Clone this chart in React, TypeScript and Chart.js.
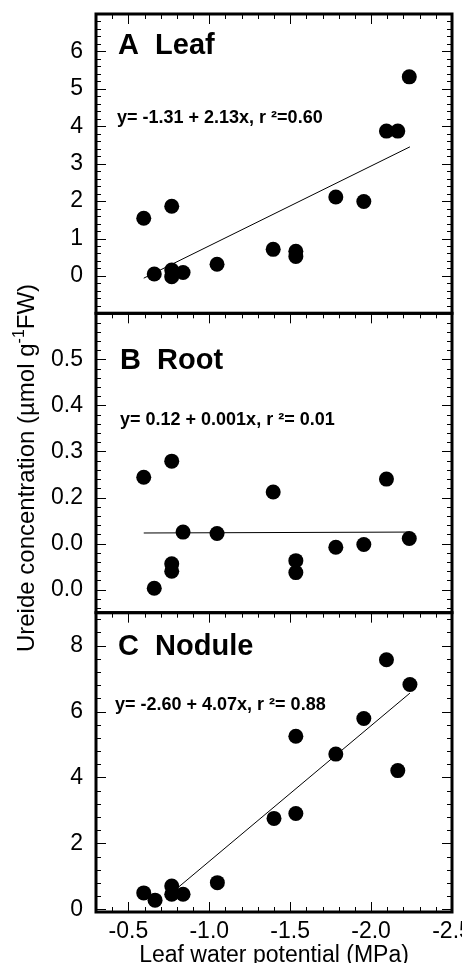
import React, { useEffect, useRef } from 'react';
import { Chart, registerables } from 'chart.js';

Chart.register(...registerables);

const FONT = "'Liberation Sans', Arial, Helvetica, sans-serif";

// ---- Data (leaf water potential, MPa; ureide concentration) ----
const leafX = [-0.595, -0.768, -0.66, -0.768, -0.768, -0.838, -1.048, -1.395, -1.535, -1.535, -1.782, -1.955, -2.095, -2.165, -2.236];
const leafY = [1.54, 1.86, 0.05, 0.16, -0.02, 0.09, 0.31, 0.71, 0.66, 0.52, 2.11, 1.99, 3.87, 3.87, 5.32];

const rootX = [-0.595, -0.768, -0.66, -0.768, -0.768, -0.838, -1.048, -1.395, -1.535, -1.535, -1.782, -1.955, -2.095, -2.236];
const rootY = [0.244, 0.279, 0.003, 0.056, 0.04, 0.125, 0.122, 0.212, 0.063, 0.037, 0.092, 0.098, 0.24, 0.111];

const noduleX = [-0.595, -0.665, -0.768, -0.768, -0.838, -1.05, -1.4, -1.535, -1.535, -1.782, -1.955, -2.095, -2.165, -2.24];
const noduleY = [0.5, 0.28, 0.71, 0.46, 0.46, 0.81, 2.76, 5.25, 2.91, 4.71, 5.79, 7.57, 4.21, 6.82];

// regression line end points
const leafFitX = [-0.595, -2.24];
const leafFitY = [-0.06, 3.45];
const rootFitX = [-0.595, -2.236];
const rootFitY = [0.123, 0.125];
const noduleFitX = [-0.811, -2.24];
const noduleFitY = [0.68, 6.56];

// ---- Ticks ----
const xTickValues = [-0.5, -1.0, -1.5, -2.0, -2.5];
const xTickLabels = ['-0.5', '-1.0', '-1.5', '-2.0', '-2.5'];
const leafTickValues = [0, 1, 2, 3, 4, 5, 6];
const leafTickLabels = ['0', '1', '2', '3', '4', '5', '6'];
const rootTickValues = [0, 0.1, 0.2, 0.3, 0.4, 0.5];
const rootTickLabels = ['0.0', '0.0', '0.2', '0.3', '0.4', '0.5'];
const noduleTickValues = [0, 2, 4, 6, 8];
const noduleTickLabels = ['0', '2', '4', '6', '8'];

// ---- Texts ----
const panelTitles = ['A  Leaf', 'B  Root', 'C  Nodule'];
const panelEquations = ['y= -1.31 + 2.13x, r \u00B2=0.60', 'y= 0.12 + 0.001x, r \u00B2= 0.01', 'y= -2.60 + 4.07x, r \u00B2= 0.88'];
const yTitleMain = 'Ureide concentration (\u00B5mol g';
const yTitleSup = '-1';
const yTitleEnd = 'FW)';
const xTitle = 'Leaf water potential (MPa)';

const zip = (xs: number[], ys: number[]) => xs.map((x, i) => ({ x, y: ys[i] }));

const panelIds = ['yA', 'yB', 'yC'];
const minorSteps = [0.2, 0.02, 0.4];
const majorTicks = [leafTickValues, rootTickValues, noduleTickValues];
const xMinorStep = 0.1;
const textPos = [
  { tx: 22, ty: 40, ex: 21, ey: 109 },
  { tx: 24, ty: 56, ex: 24, ey: 112 },
  { tx: 22, ty: 42, ex: 19, ey: 97 },
];

const stepValues = (min: number, max: number, step: number) => {
  const out: number[] = [];
  const k0 = Math.ceil(min / step - 1e-9);
  const k1 = Math.floor(max / step + 1e-9);
  for (let k = k0; k <= k1; k++) out.push(+(k * step).toFixed(6));
  return out;
};

const framePlugin = {
  id: 'panelFrames',
  afterDatasetsDraw(chart: any) {
    const ctx = chart.ctx as CanvasRenderingContext2D;
    const xs = chart.scales.x;
    const left = xs.left;
    const right = xs.right;
    ctx.save();
    ctx.strokeStyle = '#000';
    ctx.fillStyle = '#000';
    const xMajor = xTickValues;
    const xMinor = stepValues(xs.min, xs.max, xMinorStep);
    panelIds.forEach((id, i) => {
      const s = chart.scales[id];
      const top = s.top;
      const bottom = s.bottom;
      ctx.lineWidth = 1;
      ctx.beginPath();
      // y ticks on left and right, pointing inward
      const minors = stepValues(s.min, s.max, minorSteps[i]);
      minors.forEach((v) => {
        const isMajor = majorTicks[i].some((m) => Math.abs(m - v) < 1e-6);
        const len = isMajor ? 10 : 5;
        const py = Math.round(s.getPixelForValue(v)) + 0.5;
        if (py <= top + 2 || py >= bottom - 2) return;
        ctx.moveTo(left, py);
        ctx.lineTo(left + len, py);
        ctx.moveTo(right, py);
        ctx.lineTo(right - len, py);
      });
      // x ticks on top (down) of each panel, bottom (up) of last panel
      xMinor.forEach((v) => {
        const isMajor = xMajor.some((m) => Math.abs(m - v) < 1e-6);
        const len = isMajor ? 10 : 5;
        const px = Math.round(xs.getPixelForValue(v)) + 0.5;
        if (px <= left + 2 || px >= right - 2) return;
        ctx.moveTo(px, top);
        ctx.lineTo(px, top + len);
        if (i === panelIds.length - 1) {
          ctx.moveTo(px, bottom);
          ctx.lineTo(px, bottom - len);
        }
      });
      ctx.stroke();
      // frame
      ctx.lineWidth = 3;
      ctx.strokeRect(left, top, right - left, bottom - top);
      // texts
      const p = textPos[i];
      ctx.textAlign = 'left';
      ctx.textBaseline = 'alphabetic';
      ctx.font = `bold 29px ${FONT}`;
      ctx.fillText(panelTitles[i], left + p.tx, top + p.ty);
      ctx.font = `bold 18px ${FONT}`;
      ctx.fillText(panelEquations[i], left + p.ex, top + p.ey);
    });
    // rotated y title with superscript
    const cy = (chart.chartArea.top + chart.chartArea.bottom) / 2 + 5;
    ctx.translate(34, cy);
    ctx.rotate(-Math.PI / 2);
    const mainFont = `24px ${FONT}`;
    const supFont = `16px ${FONT}`;
    ctx.font = mainFont;
    const w1 = ctx.measureText(yTitleMain).width;
    const w3 = ctx.measureText(yTitleEnd).width;
    ctx.font = supFont;
    const w2 = ctx.measureText(yTitleSup).width;
    const total = w1 + w2 + w3;
    let u = -total / 2;
    ctx.font = mainFont;
    ctx.fillText(yTitleMain, u, 0);
    u += w1;
    ctx.font = supFont;
    ctx.fillText(yTitleSup, u, -10);
    u += w2;
    ctx.font = mainFont;
    ctx.fillText(yTitleEnd, u, 0);
    ctx.restore();
  },
};

const yScale = (
  min: number,
  max: number,
  values: number[],
  labels: string[],
  weight: number
) => ({
  type: 'linear',
  position: 'left',
  stack: 'panels',
  stackWeight: 1,
  weight,
  min,
  max,
  afterBuildTicks: (s: any) => {
    s.ticks = values.map((v) => ({ value: v }));
  },
  afterFit: (s: any) => {
    s.width = 96;
    s.paddingTop = 0;
    s.paddingBottom = 0;
  },
  grid: { display: false, drawTicks: false },
  border: { display: false },
  ticks: {
    autoSkip: false,
    padding: 13,
    color: '#000',
    font: { family: FONT, size: 23 },
    callback: (v: number) => {
      const idx = values.findIndex((t) => Math.abs(t - v) < 1e-9);
      return idx >= 0 ? labels[idx] : '';
    },
  },
});

const pointDs = (data: any[], yAxisID: string) => ({
  type: 'scatter',
  data,
  xAxisID: 'x',
  yAxisID,
  pointRadius: 7.5,
  pointHoverRadius: 7.5,
  pointBackgroundColor: '#000',
  pointBorderColor: '#000',
  pointBorderWidth: 0,
  showLine: false,
});

const lineDs = (data: any[], yAxisID: string) => ({
  type: 'scatter',
  data,
  xAxisID: 'x',
  yAxisID,
  showLine: true,
  pointRadius: 0,
  borderColor: '#000',
  borderWidth: 1,
  fill: false,
});

export default function App() {
  const ref = useRef<HTMLCanvasElement | null>(null);
  useEffect(() => {
    if (!ref.current) return;
    const chart = new Chart(ref.current, {
      type: 'scatter',
      data: {
        datasets: [
          lineDs(zip(leafFitX, leafFitY), 'yA'),
          pointDs(zip(leafX, leafY), 'yA'),
          lineDs(zip(rootFitX, rootFitY), 'yB'),
          pointDs(zip(rootX, rootY), 'yB'),
          lineDs(zip(noduleFitX, noduleFitY), 'yC'),
          pointDs(zip(noduleX, noduleY), 'yC'),
        ] as any,
      },
      options: {
        animation: false,
        responsive: false,
        events: [],
        layout: { padding: { top: 14, right: 10, left: 0, bottom: 0 } },
        plugins: { legend: { display: false }, tooltip: { enabled: false } },
        scales: {
          x: {
            type: 'linear',
            position: 'bottom',
            min: -2.5,
            max: -0.3,
            reverse: true,
            afterBuildTicks: (s: any) => {
              s.ticks = xTickValues.map((v) => ({ value: v }));
            },
            afterFit: (s: any) => {
              s.height = 51;
              s.paddingLeft = 0;
              s.paddingRight = 0;
            },
            grid: { display: false, drawTicks: false },
            border: { display: false },
            ticks: {
              autoSkip: false,
              maxRotation: 0,
              padding: 6,
              color: '#000',
              font: { family: FONT, size: 23 },
              callback: (v: number) => {
                const idx = xTickValues.findIndex((t) => Math.abs(t - v) < 1e-9);
                return idx >= 0 ? xTickLabels[idx] : '';
              },
            },
            title: {
              display: true,
              text: xTitle,
              color: '#000',
              font: { family: FONT, size: 23, lineHeight: 0.6 },
              padding: { top: 0, bottom: 0 },
            },
          },
          yA: yScale(-1, 7, leafTickValues, leafTickLabels, 3),
          yB: yScale(-0.05, 0.6, rootTickValues, rootTickLabels, 2),
          yC: yScale(-0.08, 9, noduleTickValues, noduleTickLabels, 1),
        } as any,
      },
      plugins: [framePlugin as any],
    });
    return () => chart.destroy();
  }, []);
  return (
    <div style={{ position: 'absolute', left: 0, top: 0, width: 462, height: 963, background: '#fff' }}>
      <canvas ref={ref} width={462} height={963} style={{ display: 'block' }} />
    </div>
  );
}
